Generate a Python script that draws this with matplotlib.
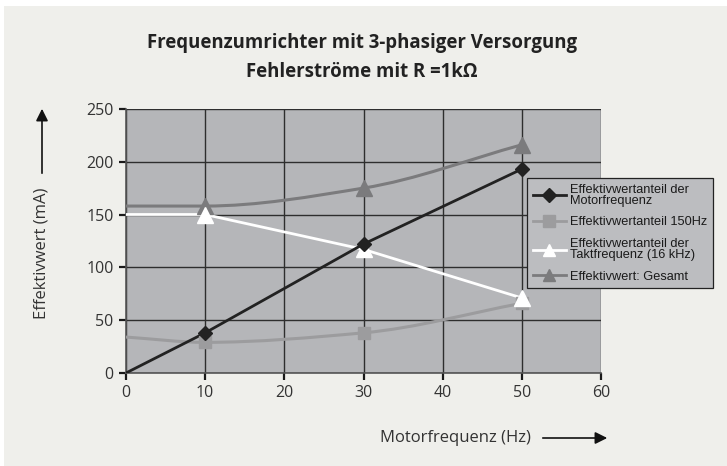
import matplotlib
matplotlib.use("Agg")
import matplotlib.pyplot as plt
from matplotlib.path import Path
from matplotlib.patches import PathPatch, Rectangle
from matplotlib.lines import Line2D
import numpy as np

# Messwerte: Fehlerströme bei 3-phasiger Versorgung, R = 1 kOhm
freq = [0, 10, 30, 50]
motor = [0, 38, 122, 193]          # Effektivwertanteil der Motorfrequenz
anteil_150 = [34, 29, 38, 66]      # Effektivwertanteil 150Hz
takt = [150, 150, 117, 71]         # Effektivwertanteil der Taktfrequenz (16 kHz)
gesamt = [158, 158, 175, 216]      # Effektivwert: Gesamt

labels = ["Effektivwertanteil der\nMotorfrequenz",
          "Effektivwertanteil 150Hz",
          "Effektivwertanteil der\nTaktfrequenz (16 kHz)",
          "Effektivwert: Gesamt"]
xticks = [0, 10, 20, 30, 40, 50, 60]
yticks = [0, 50, 100, 150, 200, 250]

BG = "#efefeb"
PLOT_BG = "#b5b6b9"


def smooth_path(x, y):
    # geglättete Linie als Bezier-Pfad, monotone Tangenten (Fritsch-Carlson)
    x = np.asarray(x, float)
    y = np.asarray(y, float)
    h = np.diff(x)
    d = np.diff(y) / h
    m = np.zeros_like(y)
    m[0], m[-1] = d[0], d[-1]
    for i in range(1, len(y) - 1):
        if d[i - 1] * d[i] > 0:
            m[i] = 2.0 / (1.0 / d[i - 1] + 1.0 / d[i])
    verts = [(x[0], y[0])]
    codes = [Path.MOVETO]
    for i in range(len(x) - 1):
        verts += [(x[i] + h[i] / 3, y[i] + m[i] * h[i] / 3),
                  (x[i + 1] - h[i] / 3, y[i + 1] - m[i + 1] * h[i] / 3),
                  (x[i + 1], y[i + 1])]
        codes += [Path.CURVE4] * 3
    return Path(verts, codes)


fig = plt.figure(figsize=(7.27, 4.66), dpi=100, facecolor=BG)
fig.patches.append(Rectangle((0, 0.987), 1, 0.013, transform=fig.transFigure,
                             facecolor="white", edgecolor="none", zorder=-1))
fig.patches.append(Rectangle((0, 0), 0.006, 1, transform=fig.transFigure,
                             facecolor="white", edgecolor="none", zorder=-1))

ax = fig.add_axes([0.1733, 0.1996, 0.6534, 0.5668])
ax.set_facecolor(PLOT_BG)
ax.set_xlim(0, 60)
ax.set_ylim(0, 250)
ax.set_xticks(xticks)
ax.set_yticks(yticks)
ax.grid(True, color="#2e2e2e", linewidth=1.0)
ax.set_axisbelow(True)
for s in ["top", "right"]:
    ax.spines[s].set_visible(False)
for s in ["left", "bottom"]:
    ax.spines[s].set_color("#555555")
    ax.spines[s].set_linewidth(1.2)
ax.tick_params(direction="out", length=5, width=1.6, color="#1a1a1a",
               labelsize=11.5, labelcolor="#333333", pad=4)
for t in ax.get_xticklabels() + ax.get_yticklabels():
    t.set_family("Open Sans")

# geglättete Kurven
ax.add_patch(PathPatch(smooth_path(freq, gesamt), facecolor="none",
                       edgecolor="#7b7b7d", linewidth=2.2, zorder=3))
ax.add_patch(PathPatch(smooth_path(freq, anteil_150), facecolor="none",
                       edgecolor="#9c9c9e", linewidth=2.2, zorder=3))
ax.plot(freq, takt, color="white", linewidth=2.0, zorder=4)
ax.plot(freq, motor, color="#222222", linewidth=2.0, zorder=5)

# Marker nur an den Messpunkten
ax.plot(freq[1:], gesamt[1:], "^", color="#7b7b7d", markersize=11, zorder=6)
ax.plot(freq[1:], anteil_150[1:], "s", color="#9c9c9e", markersize=9, zorder=6)
ax.plot(freq[1:], takt[1:], "^", color="white", markersize=11, zorder=6)
ax.plot(freq[1:], motor[1:], "D", color="#222222", markersize=7, zorder=7)

handles = [
    Line2D([], [], color="#222222", lw=2.0, marker="D", markersize=7),
    Line2D([], [], color="#9c9c9e", lw=2.0, marker="s", markersize=8),
    Line2D([], [], color="white", lw=2.0, marker="^", markersize=9),
    Line2D([], [], color="#7b7b7d", lw=2.0, marker="^", markersize=9),
]
leg = fig.legend(handles, labels, loc="upper left",
                 bbox_to_anchor=(527 / 727, 1 - 178 / 466),
                 prop={"family": "Liberation Sans", "size": 9.2},
                 frameon=True, fancybox=False, handlelength=2.6,
                 handletextpad=0.3, labelspacing=0.75,
                 borderpad=0.45, borderaxespad=0)
leg.get_frame().set_facecolor("#bcbdc0")
leg.get_frame().set_edgecolor("#222222")
leg.get_frame().set_linewidth(0.9)
leg.get_frame().set_alpha(1)
for t in leg.get_texts():
    t.set_linespacing(0.9)
    t.set_color("#1a1a1a")

fig.text(362 / 727, 1 - 43 / 466, "Frequenzumrichter mit 3-phasiger Versorgung",
         ha="center", va="center", fontsize=13.4, fontweight="bold",
         family="Open Sans", color="#222222")
fig.text(362 / 727, 1 - 72 / 466, "Fehlerströme mit R =1kΩ",
         ha="center", va="center", fontsize=13.4, fontweight="bold",
         family="Open Sans", color="#222222")

fig.text(42 / 727, 1 - 253 / 466, "Effektivwert (mA)", rotation=90,
         ha="center", va="center", fontsize=12, family="Open Sans",
         color="#333333")
fig.text(455 / 727, 1 - 438 / 466, "Motorfrequenz (Hz)",
         ha="center", va="center", fontsize=12, family="Open Sans",
         color="#333333")

arrow = dict(arrowstyle="-|>", color="#111111", lw=1.2, mutation_scale=18)
ax.annotate("", xy=(42 / 727, 1 - 106 / 466), xytext=(42 / 727, 1 - 176 / 466),
            xycoords="figure fraction", textcoords="figure fraction",
            arrowprops=arrow, annotation_clip=False)
ax.annotate("", xy=(610 / 727, 1 - 438 / 466), xytext=(540 / 727, 1 - 438 / 466),
            xycoords="figure fraction", textcoords="figure fraction",
            arrowprops=arrow, annotation_clip=False)

fig.savefig("out.png", dpi=100, facecolor=BG)
